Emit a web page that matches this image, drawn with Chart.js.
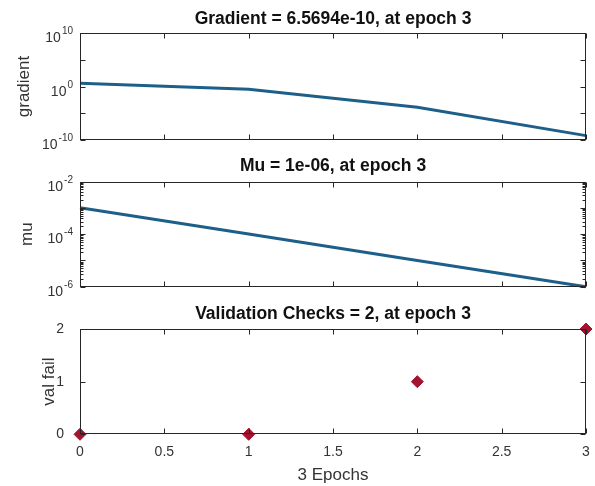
<!DOCTYPE html>
<html>
<head>
<meta charset="utf-8">
<script src="https://cdn.jsdelivr.net/npm/chart.js@4/dist/chart.umd.min.js"></script>
<style>
    body { margin: 0; background: #fff; width: 595px; height: 486px; position: relative; overflow: hidden; }
    canvas { position: absolute; left: 0; }
</style>
</head>
<body>
<canvas id="gradient-graph" width="595" height="150" style="top:0px"></canvas>
<canvas id="mu-graph" width="595" height="150" style="top:150px"></canvas>
<canvas id="valfail-graph" width="595" height="186" style="top:300px"></canvas>
<script>
// chart data
const epochs = [0, 1, 2, 3];
const gradientValues = [4.2, 0.32, 1.35e-4, 6.5694e-10];
const muValues = [1e-3, 1e-4, 1e-5, 1e-6];
const valFailValues = [0, 0, 1, 2];

// axis ticks
const xTicks = [0, 0.5, 1, 1.5, 2, 2.5, 3];
const gradientTicks = [1e-10, 1e-5, 1, 1e5, 1e10];
const gradientExps = [-10, 0, 10];
const muTicks = [1e-6, 1e-5, 1e-4, 1e-3, 1e-2];
const muExps = [-6, -4, -2];
const valFailTicks = [0, 1, 2];

const gradientTitle = "Gradient = 6.5694e-10, at epoch 3";
const muTitle = "Mu = 1e-06, at epoch 3";
const valFailTitle = "Validation Checks = 2, at epoch 3";

const FONT = '"Liberation Sans", Arial, sans-serif';
const AXIS_COLOR = '#262626';
const TEXT_COLOR = '#333333';
const LINE_COLOR = '#1d5f88';
const MARKER_COLOR = '#a2142f';

Chart.defaults.font.family = FONT;
Chart.defaults.animation = false;

// matlab style box, inward ticks and 10^n labels
const matlabAxes = {
    id: 'matlabAxes',
    afterDatasetsDraw(chart, args, opts) {
        let ctx = chart.ctx;
        let a = chart.chartArea;
        let xs = chart.scales.x;
        let ys = chart.scales.y;
        let left = Math.round(a.left) + 0.5;
        let right = Math.round(a.right) - 0.5;
        let top = Math.round(a.top) + 0.5;
        let bottom = Math.round(a.bottom) - 0.5;

        ctx.save();
        ctx.strokeStyle = AXIS_COLOR;
        ctx.lineWidth = 1;
        ctx.beginPath();
        for (let t of opts.xTicks) {
            let px = Math.round(xs.getPixelForValue(t)) + 0.5;
            ctx.moveTo(px, bottom); ctx.lineTo(px, bottom - 5);
            ctx.moveTo(px, top); ctx.lineTo(px, top + 5);
        }
        for (let t of opts.yTicks) {
            let py = Math.round(ys.getPixelForValue(t)) + 0.5;
            ctx.moveTo(left, py); ctx.lineTo(left + 5, py);
            ctx.moveTo(right, py); ctx.lineTo(right - 5, py);
        }
        if (opts.minor) {
            for (let i = 0; i < opts.yTicks.length - 1; i++) {
                for (let m = 2; m < 10; m++) {
                    let py = Math.round(ys.getPixelForValue(opts.yTicks[i] * m)) + 0.5;
                    ctx.moveTo(left, py); ctx.lineTo(left + 3, py);
                    ctx.moveTo(right, py); ctx.lineTo(right - 3, py);
                }
            }
        }
        ctx.stroke();
        ctx.strokeRect(left, top, right - left, bottom - top);

        if (opts.exps) {
            ctx.fillStyle = TEXT_COLOR;
            ctx.textBaseline = 'alphabetic';
            ctx.textAlign = 'left';
            for (let e of opts.exps) {
                let py = ys.getPixelForValue(Math.pow(10, e));
                let expText = String(e);
                ctx.font = '10px ' + FONT;
                let expW = ctx.measureText(expText).width;
                ctx.font = '14px ' + FONT;
                let baseW = ctx.measureText('10').width;
                let x0 = 73 - expW - baseW - 1;
                ctx.fillText('10', x0, py + 9);
                ctx.font = '10px ' + FONT;
                ctx.fillText(expText, x0 + baseW + 1, py + 1);
            }
        }
        ctx.restore();
    }
};
Chart.register(matlabAxes);

function toPoints(values) {
    return epochs.map((e, i) => ({ x: e, y: values[i] }));
}

function buildAPanel(canvasid, cfg) {
    let ctx = document.getElementById(canvasid);
    let showX = cfg.showX;

    let chart = new Chart(ctx, {
        type: 'line',
        data: {
            datasets: [cfg.dataset]
        },
        options: {
            responsive: false,
            animation: false,
            events: [],
            layout: {
                padding: { left: 0, right: 9, top: 0, bottom: 0 }
            },
            plugins: {
                legend: { display: false },
                tooltip: { enabled: false },
                title: {
                    display: true,
                    text: cfg.title,
                    fullSize: false,
                    color: '#111111',
                    font: { size: 17.5, weight: 'bold' },
                    padding: cfg.titlePad
                },
                matlabAxes: {
                    xTicks: xTicks,
                    yTicks: cfg.yTicks,
                    minor: cfg.minor,
                    exps: cfg.exps
                }
            },
            scales: {
                x: {
                    type: 'linear',
                    min: 0,
                    max: 3,
                    grid: { display: false },
                    border: { display: false },
                    ticks: {
                        display: showX,
                        stepSize: 0.5,
                        color: TEXT_COLOR,
                        font: { size: 14 },
                        padding: 1,
                        maxRotation: 0,
                        callback: (v) => String(v)
                    },
                    title: {
                        display: showX,
                        text: '3 Epochs',
                        color: TEXT_COLOR,
                        font: { size: 17 },
                        padding: { top: 0, bottom: 0.5 }
                    },
                    afterFit: (scale) => { scale.height = cfg.xHeight; }
                },
                y: {
                    type: cfg.yType,
                    min: cfg.yMin,
                    max: cfg.yMax,
                    grid: { display: false },
                    border: { display: false },
                    ticks: {
                        display: !cfg.exps,
                        stepSize: 1,
                        color: TEXT_COLOR,
                        font: { size: 14 },
                        padding: 8,
                        callback: (v) => cfg.exps ? '' : String(v)
                    },
                    afterBuildTicks: (scale) => {
                        scale.ticks = cfg.yTicks.map(v => ({ value: v }));
                    },
                    title: {
                        display: true,
                        text: cfg.yLabel,
                        color: TEXT_COLOR,
                        font: { size: 17 },
                        padding: { top: cfg.yLabelPad, bottom: 0 }
                    },
                    afterFit: (scale) => { scale.width = 80; }
                }
            }
        }
    });

    // nudge the layout padding so the plot box lands where the original one is
    let area = chart.chartArea;
    let pad = chart.options.layout.padding;
    pad.right += area.right - 586;
    pad.bottom += area.bottom - cfg.plotBottom;
    chart.update();
    return chart;
}

buildAPanel('gradient-graph', {
    title: gradientTitle,
    titlePad: { top: 9.0, bottom: 3.0 },
    plotBottom: 140,
    xHeight: 0,
    showX: false,
    yType: 'logarithmic',
    yMin: 1e-10,
    yMax: 1e10,
    yTicks: gradientTicks,
    exps: gradientExps,
    minor: false,
    yLabel: 'gradient',
    yLabelPad: 13.8,
    dataset: {
        data: toPoints(gradientValues),
        borderColor: LINE_COLOR,
        borderWidth: 3,
        pointRadius: 0,
        fill: false,
        clip: false
    }
});

buildAPanel('mu-graph', {
    title: muTitle,
    titlePad: { top: 6.0, bottom: 4.5 },
    plotBottom: 136.7,
    xHeight: 0,
    showX: false,
    yType: 'logarithmic',
    yMin: 1e-6,
    yMax: 1e-2,
    yTicks: muTicks,
    exps: muExps,
    minor: true,
    yLabel: 'mu',
    yLabelPad: 16.8,
    dataset: {
        data: toPoints(muValues),
        borderColor: LINE_COLOR,
        borderWidth: 3,
        pointRadius: 0,
        fill: false,
        clip: false
    }
});

buildAPanel('valfail-graph', {
    title: valFailTitle,
    titlePad: { top: 3.5, bottom: 4.5 },
    plotBottom: 134.3,
    xHeight: 51.7,
    showX: true,
    yType: 'linear',
    yMin: 0,
    yMax: 2,
    yTicks: valFailTicks,
    exps: null,
    minor: false,
    yLabel: 'val fail',
    yLabelPad: 38.8,
    dataset: {
        data: toPoints(valFailValues),
        showLine: false,
        pointStyle: 'rectRot',
        pointRadius: 6,
        backgroundColor: MARKER_COLOR,
        borderColor: MARKER_COLOR,
        borderWidth: 1,
        clip: false
    }
});
</script>
</body>
</html>
